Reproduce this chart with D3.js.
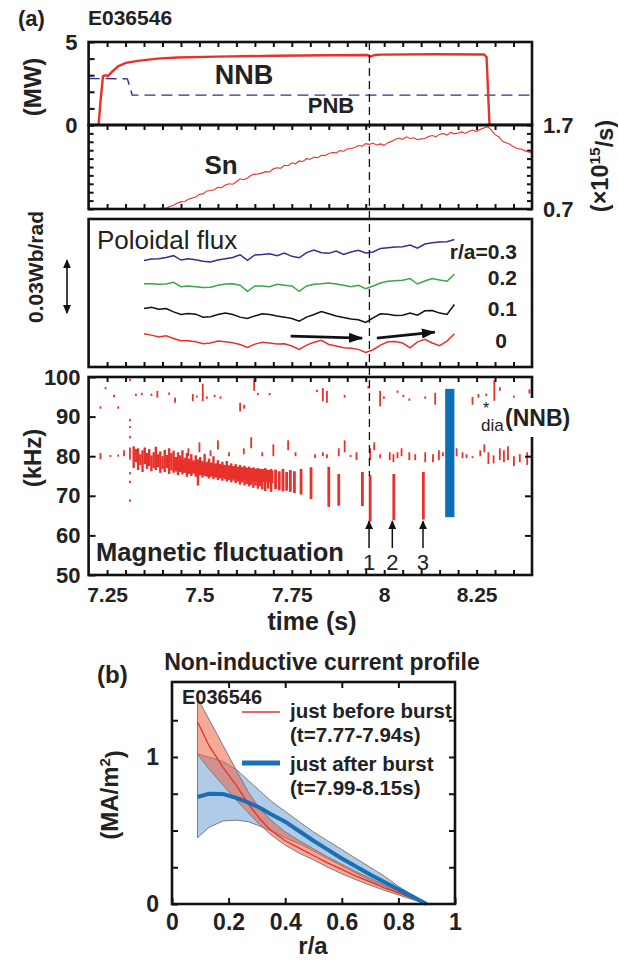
<!DOCTYPE html>
<html>
<head>
<meta charset="utf-8">
<script src="https://cdn.jsdelivr.net/npm/d3@7"></script>
<style>
  body { margin: 0; background: #fff; }
  svg text { font-family: "Liberation Sans", Arial, sans-serif; fill: #222; }
</style>
</head>
<body>
<svg id="fig" width="618" height="963"></svg>
<script>
// ---------- data ----------
const nnbTime  = [7.2, 7.227, 7.233, 7.239, 7.246, 7.252, 7.263, 7.28, 7.301, 7.333, 7.386, 7.44, 7.546, 7.706, 7.85, 7.955, 7.962, 7.975, 7.99, 8.133, 8.27, 8.277, 8.285, 8.4];
const nnbPower = [0, 0, 1.6, 2.95, 3.0, 2.94, 3.2, 3.54, 3.74, 3.86, 4.0, 4.07, 4.12, 4.17, 4.2, 4.22, 4.12, 4.22, 4.24, 4.26, 4.25, 4.1, 0, 0];
const pnbTime  = [7.2, 7.305, 7.318, 8.4];
const pnbPower = [2.8, 2.78, 1.8, 1.8];

const snStart = 7.38, snStep = 0.01;
const snValues = [0.690,0.705,0.712,0.708,0.730,0.745,0.772,0.785,0.790,0.815,
  0.830,0.842,0.875,0.880,0.915,0.920,0.930,0.958,0.955,0.985,
  1.000,0.995,1.025,1.060,1.048,1.070,1.102,1.115,1.118,1.130,
  1.145,1.140,1.178,1.190,1.185,1.220,1.215,1.250,1.238,1.272,
  1.265,1.300,1.292,1.318,1.310,1.340,1.335,1.360,1.372,1.368,
  1.395,1.388,1.415,1.420,1.432,1.455,1.448,1.478,1.470,1.482,
  1.462,1.475,1.458,1.490,1.505,1.530,1.545,1.528,1.560,1.540,
  1.548,1.525,1.535,1.540,1.562,1.575,1.560,1.588,1.600,1.580,
  1.612,1.595,1.605,1.618,1.600,1.625,1.640,1.622,1.648,1.665,
  1.680,1.640,1.585,1.560,1.505,1.490,1.470,1.440,1.420,1.415,
  1.395,1.380,1.372];

// poloidal flux (mWb/rad, curves offset for display)
const fluxStart = 7.35, fluxStep = 0.02;
const fluxR03 = [60.5,61.3,61.5,62.2,63.2,60.7,61.5,60.9,60.0,59.6,60.7,61.5,62.2,63.7,60.5,63.6,63.9,64.3,63.2,64.7,62.8,62.0,64.9,66.4,64.9,64.5,65.8,63.9,65.3,66.2,64.7,65.3,67.3,67.7,68.1,68.3,69.2,67.5,69.8,70.5,70.9,71.1,72.4];
const fluxR02 = [47.3,47.3,47.0,47.1,48.1,45.6,46.0,45.6,45.1,45.3,46.4,47.1,47.3,46.4,43.0,46.0,46.0,45.6,47.0,46.4,46.0,43.0,46.0,47.0,47.3,47.7,47.1,46.4,45.6,46.4,44.5,46.0,47.7,48.7,49.0,49.2,50.2,47.1,48.8,50.2,49.4,48.7,52.8];
const fluxR01 = [33.2,33.9,32.8,33.2,31.3,29.8,30.4,30.0,28.3,28.5,29.8,30.7,29.8,28.3,27.5,29.0,30.2,29.8,29.0,28.3,27.5,26.0,28.3,29.8,31.5,30.2,29.0,28.1,27.3,26.8,25.3,27.9,30.2,30.0,29.2,29.4,30.6,29.4,31.9,32.1,30.6,29.8,35.5];
const fluxR00 = [18.9,18.1,17.0,17.7,16.2,14.9,14.9,14.3,13.2,13.6,14.7,14.3,13.8,12.8,11.1,13.0,14.0,13.6,13.0,13.2,11.9,10.0,12.4,14.0,15.1,12.8,11.9,10.9,10.7,10.0,8.3,9.8,12.4,14.3,14.5,13.6,10.9,14.3,15.7,13.6,12.1,14.7,18.9];
const fluxLabels = ["r/a=0.3", "0.2", "0.1", "0"];

// spectrogram features: [time s, f low kHz, f high kHz]
const modeCore = [[7.43,76.2,79.2],[7.47,75.8,78.8],[7.52,75.2,78.2],[7.57,74.6,77.8],[7.62,74.0,77.2],[7.66,73.6,76.8],[7.70,73.2,76.4]];
const modeBand = [[7.322,77.0,82.5],[7.328,78.5,81.8],[7.334,76.5,82.0],[7.340,77.8,80.5],[7.346,76.0,81.5],[7.352,78.0,82.2],[7.358,76.8,80.8],[7.364,77.5,81.8],[7.370,76.2,80.2],[7.376,77.0,81.0],[7.382,76.5,82.4],[7.388,77.2,80.5],[7.394,75.8,81.2],[7.400,76.8,80.0],[7.406,76.0,81.6],[7.412,77.0,80.3],[7.418,75.5,82.0],[7.424,76.4,80.8],[7.430,75.8,81.4],[7.436,76.5,79.8],[7.442,75.2,81.0],[7.448,76.0,80.2],[7.454,75.4,81.5],[7.460,75.8,79.6],[7.466,74.8,80.8],[7.472,75.5,79.4],[7.478,75.0,80.5],[7.484,75.6,79.0],[7.490,74.8,80.2],[7.496,72.6,79.2],[7.502,75.2,79.8],[7.508,74.6,78.8],[7.514,75.0,80.6],[7.520,74.8,78.6],[7.526,74.4,79.4],[7.532,74.8,78.4],[7.538,74.2,80.0],[7.544,74.6,78.2],[7.550,74.0,79.0],[7.556,74.4,78.0],[7.562,73.8,78.6],[7.568,74.2,77.8],[7.574,73.6,78.8],[7.580,74.0,77.6],[7.586,73.4,78.2],[7.592,73.8,77.4],[7.598,73.2,78.0],[7.604,73.6,77.2],[7.610,72.8,77.8],[7.616,73.4,77.0],[7.622,72.6,77.6],[7.628,73.0,76.8],[7.634,72.4,77.4],[7.640,72.8,76.6],[7.646,72.0,77.2],[7.652,72.6,76.4],[7.658,71.8,77.0],[7.664,72.4,76.2],[7.670,71.6,76.8],[7.678,71.2,77.0],[7.686,71.8,76.4],[7.694,71.0,76.8]];
const chirps = [[7.706,71.7,76.6],[7.716,71.4,76.2],[7.726,71.1,76.8],[7.736,71.3,76.0],[7.746,71.0,76.5],[7.757,70.7,76.2],[7.775,70.3,76.8],[7.802,69.2,77.2],[7.850,67.2,77.3],[7.877,67.5,75.5],[7.941,67.4,76.0],[7.962,63.5,75.2],[8.026,63.8,75.5],[8.106,64.0,76.0]];
const specks = [[7.232,79.2,80.8],[7.259,79.8,80.3],[7.280,79.9,80.4],[7.296,80.0,81.5],
  [7.312,99.0,99.6],[7.312,88.8,89.4],[7.312,87.1,87.6],[7.312,84.5,85.1],[7.312,79.1,82.2],[7.312,75.4,76.0],[7.312,73.2,73.8],[7.312,68.5,69.1],
  [7.47,80,82],[7.50,81,83.5],[7.53,80,81.5],[7.55,81.7,84],[7.58,80,81],[7.62,80.5,82],[7.64,82,84.8],[7.67,80,81],[7.70,80,83],[7.74,81.5,84],[7.76,80,81],
  [7.813,79.5,80.5],[7.834,80,81],[7.845,79.5,80.5],[7.877,80,82],[7.893,81,84],[7.909,79.8,80.3],[7.925,79,81],[7.962,79,82],[7.973,81.5,83.5],[7.989,79.5,80.5],[8.015,79,81],[8.025,78.5,80.5],[8.036,79.5,81],[8.047,80,82],[8.068,79,81],[8.084,79,80.5],[8.111,78.5,81],[8.132,78.5,80.5],[8.148,79,81.5],[8.159,80,81],[8.196,80,82],[8.212,79.5,81],[8.223,79.5,80.5],[8.239,79.5,80],[8.260,80,81.5],[8.271,81,83],[8.282,78,81],[8.296,78.2,80.2],[8.313,79,82],[8.324,78.5,81.5],[8.335,79,82.5],[8.351,77.5,80],[8.367,78.5,80.5],[8.387,77.8,81],
  [7.232,92.0,92.6],[7.246,96.9,97.5],[7.269,94.9,95.5],[7.280,92.0,92.6],[7.328,95.2,95.8],[7.344,95.4,96.0],[7.370,95.2,95.8],[7.386,94.8,96.5],[7.418,95.5,96.1],[7.434,93.5,94.8],[7.482,93.9,95.7],[7.493,94.8,95.3],[7.509,93.9,98.3],[7.520,94.5,95.1],[7.541,94.9,95.5],[7.557,94.5,95.1],[7.610,91.3,93.5],[7.621,92.0,93.0],[7.648,96.5,99.6],[7.658,95.4,96.0],[7.690,95.4,96.0],[7.818,96.2,96.8],[7.834,93.9,97.2],[7.845,93.5,96.5],[7.893,94.8,95.5],[7.957,97.1,97.7],[7.989,92.6,96.5],[7.999,94.5,95.1],[8.036,96.0,96.6],[8.052,94.9,95.5],[8.068,94.0,94.6],[8.111,94.5,95.1],[8.138,93.0,96.0],[8.239,93.0,95.0],[8.255,94.8,95.7],[8.276,95.2,95.8],[8.298,94.0,99.2],[8.313,96.5,97.4],[8.351,94.8,95.3],[8.393,95.8,96.9]];
const diaBar = [8.165, 8.19, 64.6, 97];
const burstTimes = [7.959, 8.022, 8.105];
const burstLabels = ["1", "2", "3"];
const xTickVals = [7.25, 7.5, 7.75, 8, 8.25];
const burstLine = 7.96;

// (b) current profile
const rho       = [0.09,0.13,0.18,0.23,0.27,0.31,0.35,0.40,0.45,0.50,0.55,0.60,0.65,0.70,0.75,0.80,0.85,0.90];
const beforeMid = [1.24,1.08,0.93,0.80,0.68,0.58,0.50,0.43,0.38,0.33,0.28,0.235,0.19,0.15,0.11,0.075,0.038,0.0];
const beforeHi  = [1.40,1.26,1.08,0.90,0.76,0.65,0.57,0.49,0.43,0.375,0.32,0.27,0.22,0.175,0.13,0.09,0.045,0.0];
const beforeLo  = [1.02,0.92,0.81,0.70,0.62,0.54,0.47,0.40,0.345,0.30,0.25,0.205,0.165,0.128,0.093,0.062,0.03,0.0];
const afterMid  = [0.728,0.75,0.748,0.72,0.69,0.655,0.61,0.56,0.495,0.43,0.37,0.31,0.255,0.20,0.15,0.10,0.05,0.0];
const afterHi   = [1.02,1.0,0.97,0.91,0.84,0.77,0.70,0.63,0.56,0.49,0.43,0.37,0.31,0.25,0.19,0.12,0.06,0.0];
const afterLo   = [0.45,0.52,0.565,0.57,0.56,0.53,0.50,0.45,0.41,0.36,0.31,0.26,0.21,0.16,0.12,0.08,0.04,0.0];
const legendItems = ["just before burst", "(t=7.77-7.94s)", "just after burst", "(t=7.99-8.15s)"];

// ---------- drawing ----------
const RED = "#e8312a", NAVY = "#2e3192", GREEN = "#3aa646", BLUE = "#1b6fb5", INK = "#111";
const svg = d3.select("#fig");

const x = d3.scaleLinear().domain([7.2, 8.4]).range([88.6, 532]);
const yP = d3.scaleLinear().domain([0, 5]).range([125, 42]);
const ySn = d3.scaleLinear().domain([0.7, 1.7]).range([209, 125]);
const yFl = d3.scaleLinear().domain([0, 84]).range([367, 219]);
const yF = d3.scaleLinear().domain([50, 100]).range([575, 377]);

const minorT = d3.range(0, 23).map(i => 7.25 + i * 0.05);

const defs = svg.append("defs");
function marker(id, w, h) {
  defs.append("marker").attr("id", id)
    .attr("viewBox", `0 0 ${w} ${h}`).attr("refX", w - 1).attr("refY", h / 2)
    .attr("markerWidth", w).attr("markerHeight", h)
    .attr("markerUnits", "userSpaceOnUse").attr("orient", "auto-start-reverse")
    .append("path").attr("d", `M0,0L${w},${h / 2}L0,${h}Z`).attr("fill", INK);
}
marker("headBig", 14, 10);
marker("headSmall", 9, 8);

function clip(id, x0, y0, x1, y1) {
  defs.append("clipPath").attr("id", id).append("rect")
    .attr("x", x0).attr("y", y0).attr("width", x1 - x0).attr("height", y1 - y0);
}
clip("cP", x(7.2), yP(5), x(8.4), yP(0));
clip("cSn", x(7.2), ySn(1.7), x(8.4), ySn(0.7));
clip("cF", x(7.2), yF(100), x(8.4), yF(50));

function styleAxis(g, size) {
  g.select(".domain").remove();
  g.selectAll("line").attr("stroke", INK).attr("stroke-width", 2);
  g.selectAll("text").attr("font-size", size || 22).attr("font-weight", "bold").attr("fill", "#222")
    .attr("font-family", '"Liberation Sans", Arial, sans-serif');
}
function frame(x0, y0, x1, y1) {
  svg.append("rect").attr("x", x0).attr("y", y0).attr("width", x1 - x0).attr("height", y1 - y0)
    .attr("fill", "none").attr("stroke", INK).attr("stroke-width", 2.6);
}
function label(txt, px, py, opts) {
  const o = Object.assign({ size: 22, weight: "bold", anchor: "start", fill: "#222", rotate: 0 }, opts);
  return svg.append("text").attr("x", px).attr("y", py).attr("dy", "0.35em")
    .attr("text-anchor", o.anchor).attr("font-size", o.size).attr("font-weight", o.weight)
    .attr("fill", o.fill)
    .attr("transform", o.rotate ? `rotate(${o.rotate},${px},${py})` : null)
    .text(txt);
}

// --- panel labels
label("(a)", 18, 18, { size: 22 });
label("E036546", 88, 18, { size: 21 });

// --- heating power panel
svg.append("g").attr("transform", `translate(0,${yP(5)})`)
  .call(d3.axisBottom(x).tickValues(minorT).tickSize(5).tickFormat("")).call(styleAxis);
svg.append("g").attr("transform", `translate(${x(7.2)},0)`)
  .call(d3.axisLeft(yP).tickValues([0, 1, 2, 3, 4, 5]).tickSizeInner(-6).tickPadding(11)
    .tickFormat(d => (d === 0 || d === 5) ? d : "")).call(styleAxis);
label("(MW)", 33, 87, { size: 24, anchor: "middle", rotate: -90 });

const pLine = d3.line().x(d => x(d[0])).y(d => yP(d[1]));
svg.append("path").datum(pnbTime.map((t, i) => [t, pnbPower[i]]))
  .attr("d", pLine).attr("fill", "none").attr("stroke", NAVY).attr("stroke-width", 1.4)
  .attr("stroke-dasharray", "11,6");
svg.append("path").datum(nnbTime.map((t, i) => [t, nnbPower[i]]))
  .attr("d", pLine).attr("fill", "none").attr("stroke", RED).attr("stroke-width", 2.4)
  .attr("clip-path", "url(#cP)");
label("NNB", 244, 75, { size: 27, anchor: "middle", fill: RED });
label("PNB", 331, 105, { size: 22, anchor: "middle", fill: NAVY });

// --- neutron rate panel
svg.append("g").attr("transform", `translate(0,${ySn(1.7)})`)
  .call(d3.axisBottom(x).tickValues(minorT).tickSize(5).tickFormat("")).call(styleAxis);
svg.append("g").attr("transform", `translate(0,${ySn(0.7)})`)
  .call(d3.axisTop(x).tickValues(minorT).tickSize(5).tickFormat("")).call(styleAxis);
const snTicks = d3.range(0, 11).map(i => 0.7 + i * 0.1);
svg.append("g").attr("transform", `translate(${x(7.2)},0)`)
  .call(d3.axisRight(ySn).tickValues(snTicks).tickSize(5).tickFormat("")).call(styleAxis);
svg.append("g").attr("transform", `translate(${x(8.4)},0)`)
  .call(d3.axisRight(ySn).tickValues(snTicks).tickSizeInner(-5).tickPadding(11)
    .tickFormat(d => (Math.abs(d - 0.7) < 1e-6 || Math.abs(d - 1.7) < 1e-6) ? d3.format(".1f")(d) : ""))
  .call(styleAxis);
svg.append("path").datum(snValues.map((v, i) => [snStart + i * snStep, v]))
  .attr("d", d3.line().x(d => x(d[0])).y(d => ySn(d[1])))
  .attr("fill", "none").attr("stroke", RED).attr("stroke-width", 1.1).attr("clip-path", "url(#cSn)");
label("Sn", 221, 165, { size: 26, anchor: "middle", fill: RED });
const unit = svg.append("text").attr("transform", "translate(600,166) rotate(-90)")
  .attr("text-anchor", "middle").attr("dy", "0.35em").attr("font-size", 23.5).attr("font-weight", "bold");
unit.append("tspan").text("(\u00d710");
unit.append("tspan").attr("font-size", 15.5).attr("dy", "-0.55em").text("15");
unit.append("tspan").attr("dy", "0.55em").text("/s)");

frame(x(7.2), yP(5), x(8.4), yP(0));
frame(x(7.2), ySn(1.7), x(8.4), ySn(0.7));

// --- poloidal flux panel
svg.append("g").attr("transform", `translate(0,${yFl(0)})`)
  .call(d3.axisTop(x).tickValues(minorT).tickSize(5).tickFormat("")).call(styleAxis);
const fLine = d3.line().x(d => x(d[0])).y(d => yFl(d[1]));
[[fluxR03, NAVY], [fluxR02, GREEN], [fluxR01, INK], [fluxR00, RED]].forEach(([arr, col]) => {
  svg.append("path").datum(arr.map((v, i) => [fluxStart + i * fluxStep, v]))
    .attr("d", fLine).attr("fill", "none").attr("stroke", col).attr("stroke-width", 1.5);
});
frame(x(7.2), yFl(84), x(8.4), yFl(0));
label("Poloidal flux", 97, 240, { size: 26, weight: "normal" });
label(fluxLabels[0], 517, 252, { size: 21, anchor: "end" });
label(fluxLabels[1], 517, 278, { size: 21, anchor: "end" });
label(fluxLabels[2], 517, 309, { size: 21, anchor: "end" });
label(fluxLabels[3], 507, 341, { size: 21, anchor: "end" });
svg.append("line").attr("x1", 67).attr("x2", 67).attr("y1", yFl(30.6)).attr("y2", yFl(60.6))
  .attr("stroke", INK).attr("stroke-width", 1.6)
  .attr("marker-start", "url(#headSmall)").attr("marker-end", "url(#headSmall)");
label("0.03Wb/rad", 36, 267, { size: 21, anchor: "middle", rotate: -90 });
svg.append("line").attr("x1", x(7.747)).attr("y1", yFl(17.5)).attr("x2", x(7.94)).attr("y2", yFl(16.4))
  .attr("stroke", INK).attr("stroke-width", 2.6).attr("marker-end", "url(#headBig)");
svg.append("line").attr("x1", x(7.98)).attr("y1", yFl(16.4)).attr("x2", x(8.137)).attr("y2", yFl(19.8))
  .attr("stroke", INK).attr("stroke-width", 2.6).attr("marker-end", "url(#headBig)");

// --- magnetic fluctuation panel
const spec = svg.append("g").attr("clip-path", "url(#cF)");
spec.append("path").datum(modeCore)
  .attr("d", d3.area().curve(d3.curveMonotoneX).x(d => x(d[0])).y0(d => yF(d[1])).y1(d => yF(d[2])))
  .attr("fill", RED);
spec.selectAll("rect.s").data(specks).join("rect").attr("class", "s")
  .attr("x", d => x(d[0]) - 0.9).attr("width", 1.8)
  .attr("y", d => yF(d[2])).attr("height", d => yF(d[1]) - yF(d[2])).attr("fill", RED);
spec.selectAll("rect.m").data(modeBand).join("rect").attr("class", "m")
  .attr("x", d => x(d[0]) - 1.2).attr("width", 2.4)
  .attr("y", d => yF(d[2])).attr("height", d => yF(d[1]) - yF(d[2])).attr("fill", RED);
spec.selectAll("rect.c").data(chirps).join("rect").attr("class", "c")
  .attr("x", d => x(d[0]) - 1.4).attr("width", 2.8)
  .attr("y", d => yF(d[2])).attr("height", d => yF(d[1]) - yF(d[2])).attr("fill", RED);
svg.append("rect").attr("x", x(diaBar[0])).attr("width", x(diaBar[1]) - x(diaBar[0]))
  .attr("y", yF(diaBar[3])).attr("height", yF(diaBar[2]) - yF(diaBar[3])).attr("fill", "#0a6fb7");

svg.append("g").attr("transform", `translate(0,${yF(100)})`)
  .call(d3.axisBottom(x).tickValues(minorT).tickSize(5).tickFormat("")).call(styleAxis);
svg.append("g").attr("transform", `translate(0,${yF(50)})`)
  .call(d3.axisBottom(x).tickValues(minorT).tickSizeInner(-5).tickPadding(12)
    .tickFormat(d => xTickVals.some(v => Math.abs(v - d) < 1e-6) ? String(+d.toFixed(2)) : ""))
  .call(g => styleAxis(g, 21));
svg.append("g").attr("transform", `translate(${x(7.2)},0)`)
  .call(d3.axisLeft(yF).tickValues([50, 60, 70, 80, 90, 100]).tickSizeInner(-7).tickPadding(8))
  .call(styleAxis);
svg.append("g").attr("transform", `translate(${x(8.4)},0)`)
  .call(d3.axisRight(yF).tickValues([60, 70, 80, 90]).tickSizeInner(-7).tickFormat(""))
  .call(styleAxis);
frame(x(7.2), yF(100), x(8.4), yF(50));
svg.append("rect").attr("x", 526).attr("y", 398).attr("width", 12).attr("height", 39).attr("fill", "#fff");

label("(kHz)", 33, 458, { size: 24, anchor: "middle", rotate: -90 });
label("Magnetic fluctuation", 96, 552, { size: 25.5 });
label("time (s)", 312, 621, { size: 25, anchor: "middle" });

burstTimes.forEach((t, i) => {
  svg.append("line").attr("x1", x(t)).attr("x2", x(t)).attr("y1", yF(56.8)).attr("y2", yF(63.6))
    .attr("stroke", INK).attr("stroke-width", 1.5).attr("marker-end", "url(#headSmall)");
  label(burstLabels[i], x(t), yF(53.3), { size: 22, weight: "normal", anchor: "middle" });
});

svg.append("text").attr("x", 486).attr("y", 408).attr("dy", "0.35em").attr("text-anchor", "middle")
  .attr("font-size", 16).attr("fill", "#0a6fb7").text("*");
label("dia", 481, 425, { size: 17, weight: "normal", fill: "#0a6fb7" });
label("(NNB)", 505, 418, { size: 23, fill: "#0a6fb7" });

// time of the burst
svg.append("line").attr("x1", x(burstLine)).attr("x2", x(burstLine)).attr("y1", yP(5)).attr("y2", yF(75))
  .attr("stroke", INK).attr("stroke-width", 1.3).attr("stroke-dasharray", "8,5");

// ---------- (b) ----------
const xb = d3.scaleLinear().domain([0, 1]).range([172, 455]);
const yb = d3.scaleLinear().domain([0, 1.51]).range([904, 682]);

label("(b)", 97, 675, { size: 24 });
label("Non-inductive current profile", 322, 662, { size: 23, anchor: "middle" });

const band = (lo, hi) => d3.area().x((d, i) => xb(rho[i])).y0((d, i) => yb(lo[i])).y1((d, i) => yb(hi[i]));
svg.append("path").datum(rho).attr("d", band(afterLo, afterHi))
  .attr("fill", "rgb(110,160,212)").attr("fill-opacity", 0.55).attr("stroke", "#7c7c7c").attr("stroke-width", 1);
svg.append("path").datum(rho).attr("d", band(beforeLo, beforeHi))
  .attr("fill", "rgb(236,98,66)").attr("fill-opacity", 0.55).attr("stroke", "#7c7c7c").attr("stroke-width", 1);
const pl = arr => d3.line().x((d, i) => xb(rho[i])).y((d, i) => yb(arr[i]));
svg.append("path").datum(rho).attr("d", pl(beforeMid)).attr("fill", "none").attr("stroke", RED).attr("stroke-width", 1.3);
svg.append("path").datum(rho).attr("d", pl(afterMid)).attr("fill", "none").attr("stroke", BLUE).attr("stroke-width", 4);

svg.append("g").attr("transform", `translate(0,${yb(0)})`)
  .call(d3.axisBottom(xb).tickValues([0, 0.2, 0.4, 0.6, 0.8, 1]).tickSizeInner(-6).tickPadding(10)
    .tickFormat(d => d === 0 || d === 1 ? d : d3.format(".1f")(d)))
  .call(g => styleAxis(g, 23));
svg.append("g").attr("transform", `translate(0,${yb(1.51)})`)
  .call(d3.axisBottom(xb).tickValues([0.2, 0.4, 0.6, 0.8]).tickSize(6).tickFormat("")).call(styleAxis);
svg.append("g").attr("transform", `translate(${xb(0)},0)`)
  .call(d3.axisLeft(yb).tickValues([0, 0.25, 0.5, 0.75, 1, 1.25]).tickSizeInner(-6).tickPadding(13)
    .tickFormat(d => d === 0 || d === 1 ? d : "")).call(g => styleAxis(g, 23));
svg.append("g").attr("transform", `translate(${xb(1)},0)`)
  .call(d3.axisRight(yb).tickValues([0.25, 0.5, 0.75, 1, 1.25]).tickSizeInner(-6).tickFormat(""))
  .call(styleAxis);
frame(xb(0), yb(1.51), xb(1), yb(0));

label("E036546", 182, 697, { size: 20 });
svg.append("line").attr("x1", 242).attr("x2", 280).attr("y1", 712).attr("y2", 712).attr("stroke", RED).attr("stroke-width", 1.5);
svg.append("line").attr("x1", 242).attr("x2", 280).attr("y1", 763).attr("y2", 763).attr("stroke", BLUE).attr("stroke-width", 5);
label(legendItems[0], 290, 711, { size: 20.5, fill: RED });
label(legendItems[1], 290, 735, { size: 20.5, fill: RED });
label(legendItems[2], 290, 764, { size: 20.5, fill: BLUE });
label(legendItems[3], 290, 788, { size: 20.5, fill: BLUE });

label("r/a", 313, 946, { size: 24, anchor: "middle" });
const mu = svg.append("text").attr("transform", "translate(110,795) rotate(-90)")
  .attr("text-anchor", "middle").attr("dy", "0.35em").attr("font-size", 24).attr("font-weight", "bold");
mu.append("tspan").text("(MA/m");
mu.append("tspan").attr("font-size", 15).attr("dy", "-0.55em").text("2");
mu.append("tspan").attr("dy", "0.55em").text(")");
</script>
</body>
</html>
